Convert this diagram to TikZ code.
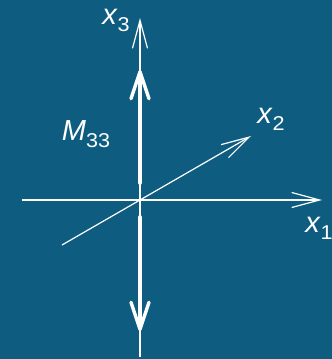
\documentclass[tikz,border=0pt]{standalone}
\usepackage{fontspec}
\setmainfont{Liberation Sans}
\usepackage{xcolor}
\usetikzlibrary{arrows.meta}
\definecolor{boardBlue}{RGB}{14,93,128}
\newcommand{\lowsub}[1]{\raisebox{-7pt}{\scalebox{1.08}[1]{\fontsize{20}{20}\selectfont #1}}}

\begin{document}
\begin{tikzpicture}[x=1pt,y=1pt,
  axis/.style={draw=white,line width=1.2pt,-{Straight Barb[length=28pt,width=15pt,line width=1.2pt]}},
  moment/.style={draw=white,line width=3.6pt,line cap=round,-{Straight Barb[length=27pt,width=18pt,line width=3.4pt,round]}},
  lab/.style={text=white,font=\fontsize{29}{32}\selectfont,inner sep=0pt}]
\path[use as bounding box,fill=boardBlue] (-140,-159) rectangle (192,200);

% axes
\coordinate (o1) at (-118,0);   \coordinate (e1) at (182,0);
\coordinate (o2) at (-78,-45);  \coordinate (e2) at (111,64);
\coordinate (o3) at (0,-157);   \coordinate (e3) at (0,182);
\draw[axis] (o1) -- (e1);
\draw[axis] (o2) -- (e2);
\draw[axis] (o3) -- (e3);

\node[lab] (x1) at (179,-28) {\textit{x}\lowsub{1}};
\node[lab] (x2) at (131,81) {\textit{x}\lowsub{2}};
\node[lab] (x3) at (-24,180) {\textit{x}\lowsub{3}};

% moment arrows
\coordinate (m1) at (0,17);  \coordinate (m2) at (0,130);
\coordinate (m3) at (0,-17); \coordinate (m4) at (0,-131);
\draw[moment] (m1) -- (m2);
\draw[moment] (m3) -- (m4);
\node[lab] (M) at (-54,66) {\textit{M}\lowsub{33}};
\end{tikzpicture}
\end{document}
